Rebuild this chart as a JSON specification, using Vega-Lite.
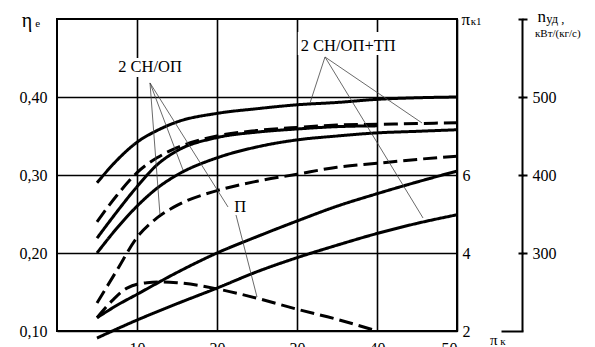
{
  "$schema": "https://vega.github.io/schema/vega-lite/v6.json",
  "width": 400,
  "height": 312,
  "autosize": {"type": "none"},
  "padding": {"left": 57, "top": 19, "right": 138, "bottom": 16},
  "background": "white",
  "config": {
    "view": {"stroke": "#000", "strokeWidth": 2},
    "font": "Liberation Serif",
    "text": {"font": "Liberation Serif"},
    "axis": {"labelFont": "Liberation Serif", "labelColor": "#000", "labelFontSize": 16, "titleFont": "Liberation Serif"}
  },
  "datasets": {
    "curves": [
      {"s": "T", "style": "solid", "pk": 5, "eta": 0.290}, {"s": "T", "style": "solid", "pk": 7.5, "eta": 0.319}, {"s": "T", "style": "solid", "pk": 10, "eta": 0.342}, {"s": "T", "style": "solid", "pk": 12.5, "eta": 0.357}, {"s": "T", "style": "solid", "pk": 15, "eta": 0.368}, {"s": "T", "style": "solid", "pk": 20, "eta": 0.379}, {"s": "T", "style": "solid", "pk": 25, "eta": 0.385}, {"s": "T", "style": "solid", "pk": 30, "eta": 0.390}, {"s": "T", "style": "solid", "pk": 35, "eta": 0.393}, {"s": "T", "style": "solid", "pk": 40, "eta": 0.397}, {"s": "T", "style": "solid", "pk": 45, "eta": 0.399}, {"s": "T", "style": "solid", "pk": 50, "eta": 0.400},
      {"s": "A", "style": "dashed", "pk": 5, "eta": 0.240}, {"s": "A", "style": "dashed", "pk": 7.5, "eta": 0.274}, {"s": "A", "style": "dashed", "pk": 10, "eta": 0.303}, {"s": "A", "style": "dashed", "pk": 12.5, "eta": 0.322}, {"s": "A", "style": "dashed", "pk": 15, "eta": 0.335}, {"s": "A", "style": "dashed", "pk": 20, "eta": 0.350}, {"s": "A", "style": "dashed", "pk": 25, "eta": 0.357}, {"s": "A", "style": "dashed", "pk": 30, "eta": 0.361}, {"s": "A", "style": "dashed", "pk": 35, "eta": 0.364}, {"s": "A", "style": "dashed", "pk": 40, "eta": 0.365}, {"s": "A", "style": "dashed", "pk": 45, "eta": 0.366}, {"s": "A", "style": "dashed", "pk": 50, "eta": 0.367},
      {"s": "B", "style": "solid", "pk": 5, "eta": 0.219}, {"s": "B", "style": "solid", "pk": 7.5, "eta": 0.253}, {"s": "B", "style": "solid", "pk": 10, "eta": 0.285}, {"s": "B", "style": "solid", "pk": 12.5, "eta": 0.313}, {"s": "B", "style": "solid", "pk": 15, "eta": 0.331}, {"s": "B", "style": "solid", "pk": 20, "eta": 0.348}, {"s": "B", "style": "solid", "pk": 25, "eta": 0.355}, {"s": "B", "style": "solid", "pk": 30, "eta": 0.359}, {"s": "B", "style": "solid", "pk": 35, "eta": 0.362}, {"s": "B", "style": "solid", "pk": 40, "eta": 0.363},
      {"s": "C", "style": "solid", "pk": 5, "eta": 0.200}, {"s": "C", "style": "solid", "pk": 7.5, "eta": 0.232}, {"s": "C", "style": "solid", "pk": 10, "eta": 0.260}, {"s": "C", "style": "solid", "pk": 12.5, "eta": 0.283}, {"s": "C", "style": "solid", "pk": 15, "eta": 0.300}, {"s": "C", "style": "solid", "pk": 20, "eta": 0.322}, {"s": "C", "style": "solid", "pk": 25, "eta": 0.336}, {"s": "C", "style": "solid", "pk": 30, "eta": 0.345}, {"s": "C", "style": "solid", "pk": 35, "eta": 0.350}, {"s": "C", "style": "solid", "pk": 40, "eta": 0.354}, {"s": "C", "style": "solid", "pk": 45, "eta": 0.356}, {"s": "C", "style": "solid", "pk": 50, "eta": 0.358},
      {"s": "DC", "style": "dashed", "pk": 5, "eta": 0.136}, {"s": "DC", "style": "dashed", "pk": 7.5, "eta": 0.178}, {"s": "DC", "style": "dashed", "pk": 10, "eta": 0.220}, {"s": "DC", "style": "dashed", "pk": 12.5, "eta": 0.245}, {"s": "DC", "style": "dashed", "pk": 15, "eta": 0.261}, {"s": "DC", "style": "dashed", "pk": 20, "eta": 0.280}, {"s": "DC", "style": "dashed", "pk": 25, "eta": 0.292}, {"s": "DC", "style": "dashed", "pk": 30, "eta": 0.301}, {"s": "DC", "style": "dashed", "pk": 35, "eta": 0.310}, {"s": "DC", "style": "dashed", "pk": 40, "eta": 0.315}, {"s": "DC", "style": "dashed", "pk": 45, "eta": 0.320}, {"s": "DC", "style": "dashed", "pk": 50, "eta": 0.324},
      {"s": "D", "style": "solid", "pk": 5, "eta": 0.117}, {"s": "D", "style": "solid", "pk": 7.5, "eta": 0.133}, {"s": "D", "style": "solid", "pk": 10, "eta": 0.147}, {"s": "D", "style": "solid", "pk": 15, "eta": 0.175}, {"s": "D", "style": "solid", "pk": 20, "eta": 0.200}, {"s": "D", "style": "solid", "pk": 25, "eta": 0.221}, {"s": "D", "style": "solid", "pk": 30, "eta": 0.241}, {"s": "D", "style": "solid", "pk": 35, "eta": 0.260}, {"s": "D", "style": "solid", "pk": 40, "eta": 0.276}, {"s": "D", "style": "solid", "pk": 45, "eta": 0.291}, {"s": "D", "style": "solid", "pk": 50, "eta": 0.305},
      {"s": "E", "style": "solid", "pk": 5, "eta": 0.091}, {"s": "E", "style": "solid", "pk": 10, "eta": 0.114}, {"s": "E", "style": "solid", "pk": 15, "eta": 0.135}, {"s": "E", "style": "solid", "pk": 20, "eta": 0.155}, {"s": "E", "style": "solid", "pk": 25, "eta": 0.176}, {"s": "E", "style": "solid", "pk": 30, "eta": 0.194}, {"s": "E", "style": "solid", "pk": 35, "eta": 0.210}, {"s": "E", "style": "solid", "pk": 40, "eta": 0.225}, {"s": "E", "style": "solid", "pk": 45, "eta": 0.238}, {"s": "E", "style": "solid", "pk": 50, "eta": 0.249},
      {"s": "F", "style": "dashed", "pk": 5, "eta": 0.117}, {"s": "F", "style": "dashed", "pk": 7, "eta": 0.140}, {"s": "F", "style": "dashed", "pk": 8.75, "eta": 0.155}, {"s": "F", "style": "dashed", "pk": 11.25, "eta": 0.162}, {"s": "F", "style": "dashed", "pk": 13, "eta": 0.163}, {"s": "F", "style": "dashed", "pk": 15, "eta": 0.162}, {"s": "F", "style": "dashed", "pk": 20, "eta": 0.154}, {"s": "F", "style": "dashed", "pk": 25, "eta": 0.142}, {"s": "F", "style": "dashed", "pk": 30, "eta": 0.128}, {"s": "F", "style": "dashed", "pk": 35, "eta": 0.115}, {"s": "F", "style": "dashed", "pk": 40, "eta": 0.100}
    ],
    "boxes": [
      {"x1": 7.25, "x2": 16.0, "y1": 0.4256, "y2": 0.45},
      {"x1": 30.1, "x2": 42.6, "y1": 0.4538, "y2": 0.4833}
    ],
    "pointers": [
      {"x1": 33.5, "y1": 0.4513, "x2": 31.625, "y2": 0.3923},
      {"x1": 33.5, "y1": 0.4513, "x2": 45.75, "y2": 0.2449},
      {"x1": 33.5, "y1": 0.4513, "x2": 45.625, "y2": 0.3667},
      {"x1": 11.625, "y1": 0.418, "x2": 12.875, "y2": 0.2487},
      {"x1": 11.625, "y1": 0.418, "x2": 15.75, "y2": 0.3064},
      {"x1": 11.625, "y1": 0.418, "x2": 21.375, "y2": 0.259},
      {"x1": 22.375, "y1": 0.2487, "x2": 25.0, "y2": 0.1436}
    ],
    "labels": [
      {"t": "2 СН/ОП", "x": 11.63, "y": 0.4385, "size": 16.5, "font": "Liberation Serif", "al": "center"},
      {"t": "2 СН/ОП+ТП", "x": 36.4, "y": 0.4654, "size": 16.5, "font": "Liberation Serif", "al": "center"},
      {"t": "П", "x": 22.9, "y": 0.259, "size": 16.5, "font": "Liberation Serif", "al": "center"},
      {"t": "η", "x": -3.75, "y": 0.4974, "size": 20, "font": "Liberation Sans", "al": "left"},
      {"t": "e", "x": -2.4, "y": 0.4936, "size": 11, "font": "Liberation Sans", "al": "left"},
      {"t": "π", "x": 51.1, "y": 0.4990, "size": 17, "font": "Liberation Serif", "al": "left"},
      {"t": "к1", "x": 52.4, "y": 0.4962, "size": 11, "font": "Liberation Serif", "al": "left"},
      {"t": "n", "x": 60.6, "y": 0.5020, "size": 17, "font": "Liberation Serif", "al": "left"},
      {"t": "уд ,", "x": 62.3, "y": 0.5000, "size": 12.5, "font": "Liberation Serif", "al": "left"},
      {"t": "кВт/(кг/с)", "x": 62.6, "y": 0.4808, "size": 11, "font": "Liberation Serif", "al": "center"},
      {"t": "π", "x": 54.6, "y": 0.0885, "size": 15, "font": "Liberation Serif", "al": "left"},
      {"t": "к", "x": 55.75, "y": 0.0860, "size": 11, "font": "Liberation Serif", "al": "left"}
    ],
    "pk1": [{"v": 2}, {"v": 10}],
    "nud": [{"v": 200}, {"v": 600}]
  },
  "layer": [
    {
      "layer": [
        {
          "data": {"name": "boxes"},
          "mark": {"type": "rect", "color": "white"},
          "encoding": {
            "x": {"field": "x1", "type": "quantitative", "scale": {"domain": [0, 50], "nice": false, "zero": false},
              "axis": {"orient": "bottom", "values": [10, 20, 30, 40, 50], "grid": true, "gridColor": "#000", "gridWidth": 1.6, "gridOpacity": 1, "tickSize": 0, "labelPadding": 9, "domain": false, "title": null}},
            "x2": {"field": "x2"},
            "y": {"field": "y1", "type": "quantitative", "scale": {"domain": [0.1, 0.5], "nice": false, "zero": false},
              "axis": {"orient": "left", "values": [0.1, 0.2, 0.3, 0.4], "labelExpr": "replace(format(datum.value, '.2f'), '.', ',')", "grid": true, "gridColor": "#000", "gridWidth": 1.6, "gridOpacity": 1, "tickSize": 0, "labelPadding": 10, "domain": false, "title": null}},
            "y2": {"field": "y2"}
          }
        },
        {
          "data": {"name": "curves"},
          "mark": {"type": "line", "color": "#000", "strokeWidth": 3, "interpolate": "monotone", "clip": false},
          "encoding": {
            "x": {"field": "pk", "type": "quantitative"},
            "y": {"field": "eta", "type": "quantitative"},
            "detail": {"field": "s"},
            "strokeDash": {"field": "style", "type": "nominal", "scale": {"domain": ["solid", "dashed"], "range": [[1, 0], [14, 6]]}, "legend": null}
          }
        },
        {
          "data": {"name": "pointers"},
          "mark": {"type": "rule", "color": "#444", "strokeWidth": 0.8},
          "encoding": {
            "x": {"field": "x1", "type": "quantitative"},
            "y": {"field": "y1", "type": "quantitative"},
            "x2": {"field": "x2"},
            "y2": {"field": "y2"}
          }
        },
        {
          "data": {"name": "labels"},
          "mark": {"type": "text", "baseline": "middle", "color": "#000"},
          "encoding": {
            "x": {"field": "x", "type": "quantitative"},
            "y": {"field": "y", "type": "quantitative"},
            "text": {"field": "t"},
            "size": {"field": "size", "type": "quantitative", "scale": null},
            "font": {"field": "font", "type": "nominal", "scale": null},
            "align": {"field": "al", "type": "nominal", "scale": null}
          }
        }
      ]
    },
    {
      "data": {"name": "pk1"},
      "mark": {"type": "point", "opacity": 0},
      "encoding": {
        "y": {"field": "v", "type": "quantitative", "scale": {"domain": [2, 10], "nice": false, "zero": false},
          "axis": {"orient": "right", "values": [2, 4, 6], "tickSize": 0, "labelPadding": 5, "domain": false, "grid": false, "title": null}}
      }
    },
    {
      "data": {"name": "nud"},
      "mark": {"type": "point", "opacity": 0},
      "encoding": {
        "y": {"field": "v", "type": "quantitative", "scale": {"domain": [200, 600], "nice": false, "zero": false},
          "axis": {"orient": "right", "offset": 65, "values": [300, 400, 500, 600], "labelExpr": "datum.value < 550 ? datum.label : ''", "tickSize": 5, "tickWidth": 2, "tickColor": "#000", "labelPadding": 5, "domain": true, "domainColor": "#000", "domainWidth": 2, "grid": false, "title": null}}
      }
    },
    {
      "data": {"name": "nud"},
      "mark": {"type": "point", "opacity": 0},
      "encoding": {
        "y": {"field": "v", "type": "quantitative", "scale": {"domain": [200, 600], "nice": false, "zero": false},
          "axis": {"orient": "left", "offset": -466, "values": [200, 300, 400, 500, 600], "labels": false, "tickSize": {"condition": {"test": "datum.value == 200", "value": 22}, "value": 5}, "tickWidth": 2, "tickColor": "#000", "domain": false, "grid": false, "title": null}}
      }
    }
  ],
  "resolve": {"scale": {"y": "independent"}}
}
